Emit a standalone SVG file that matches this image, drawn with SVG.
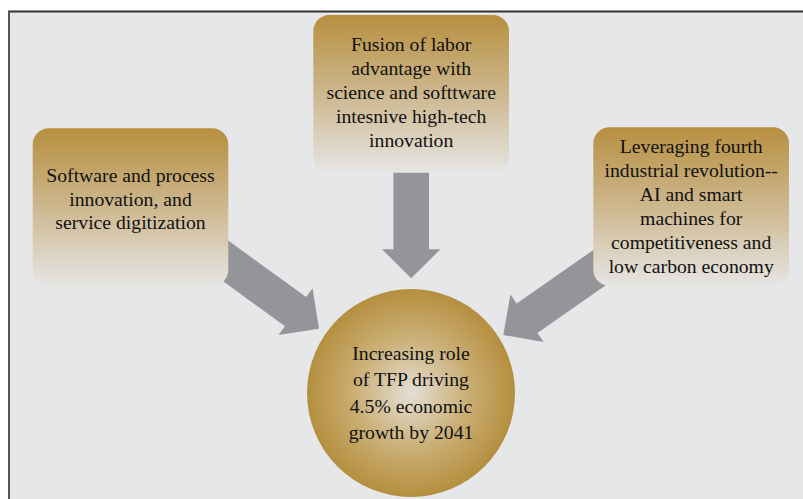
<svg xmlns="http://www.w3.org/2000/svg" xmlns:xlink="http://www.w3.org/1999/xlink" width="803" height="499" viewBox="0 0 803 499">
  <defs>
    <linearGradient id="boxGrad" x1="0" y1="0" x2="0" y2="1">
      <stop offset="0" stop-color="#B78F3F"/>
      <stop offset="0.5" stop-color="#CDB78E"/>
      <stop offset="1" stop-color="#E6E5E3"/>
    </linearGradient>
    <radialGradient id="circGrad" cx="0.5" cy="0.5" r="0.5">
      <stop offset="0" stop-color="#E4DFD5"/>
      <stop offset="0.55" stop-color="#CAAE74"/>
      <stop offset="1" stop-color="#B58F3F"/>
    </radialGradient>
    <path id="arr" d="M-130,-18 L-29,-18 L-29,-29 L0,0 L-29,29 L-29,18 L-130,18 Z"/>
    <path id="arrDown" d="M-110,-17.8 L-29,-17.8 L-29,-29.2 L0,0 L-29,29.2 L-29,17.8 L-110,17.8 Z"/>
  </defs>
  <style>
    .box { fill: url(#boxGrad); }
    .arrow { fill: #939598; }
  </style>
  <rect x="0" y="0" width="803" height="499" fill="#FFFFFF"/>
  <rect x="9" y="12" width="800" height="490" fill="#E6E7E8"/>
  <line x1="8" y1="11.5" x2="803" y2="11.5" stroke="#333" stroke-width="2"/>
  <line x1="9" y1="11" x2="9" y2="499" stroke="#555" stroke-width="2"/>

  <g id="connectors">
    <use xlink:href="#arrDown" class="arrow" transform="translate(411.2,278.3) rotate(90)"/>
    <use xlink:href="#arr" class="arrow" transform="translate(319,328.7) rotate(36)"/>
    <use xlink:href="#arr" class="arrow" transform="translate(503.3,335) rotate(145)"/>
  </g>

  <g id="node-top" font-family="Liberation Serif" font-size="19.7" fill="#111" text-anchor="middle">
    <rect class="box" x="313.3" y="15" width="195.7" height="157.7" rx="16"/>
    <text x="411.2" y="50.7">Fusion of labor</text>
    <text x="411.2" y="74.7">advantage with</text>
    <text x="411.2" y="98.7">science and softtware</text>
    <text x="411.2" y="122.7">intesnive high-tech</text>
    <text x="411.2" y="146.7">innovation</text>
  </g>

  <g id="node-left" font-family="Liberation Serif" font-size="19.7" fill="#111" text-anchor="middle">
    <rect class="box" x="32.7" y="128.3" width="195.6" height="157.4" rx="16"/>
    <text x="130.5" y="181.7">Software and process</text>
    <text x="130.5" y="205.5">innovation, and</text>
    <text x="130.5" y="229.3">service digitization</text>
  </g>

  <g id="node-right" font-family="Liberation Serif" font-size="19.7" fill="#111" text-anchor="middle">
    <rect class="box" x="593.3" y="127.3" width="195.7" height="158.4" rx="16"/>
    <text x="691.2" y="153.3">Leveraging fourth</text>
    <text x="691.2" y="177.3">industrial revolution--</text>
    <text x="691.2" y="201.3">AI and smart</text>
    <text x="691.2" y="225.3">machines for</text>
    <text x="691.2" y="249.3">competitiveness and</text>
    <text x="691.2" y="273.3">low carbon economy</text>
  </g>

  <g id="node-center" font-family="Liberation Serif" font-size="19.7" fill="#111" text-anchor="middle">
    <circle cx="411" cy="393" r="104" fill="url(#circGrad)"/>
    <text x="411" y="359.5">Increasing role</text>
    <text x="411" y="386">of TFP driving</text>
    <text x="411" y="412.5">4.5% economic</text>
    <text x="411" y="439">growth by 2041</text>
  </g>
</svg>
